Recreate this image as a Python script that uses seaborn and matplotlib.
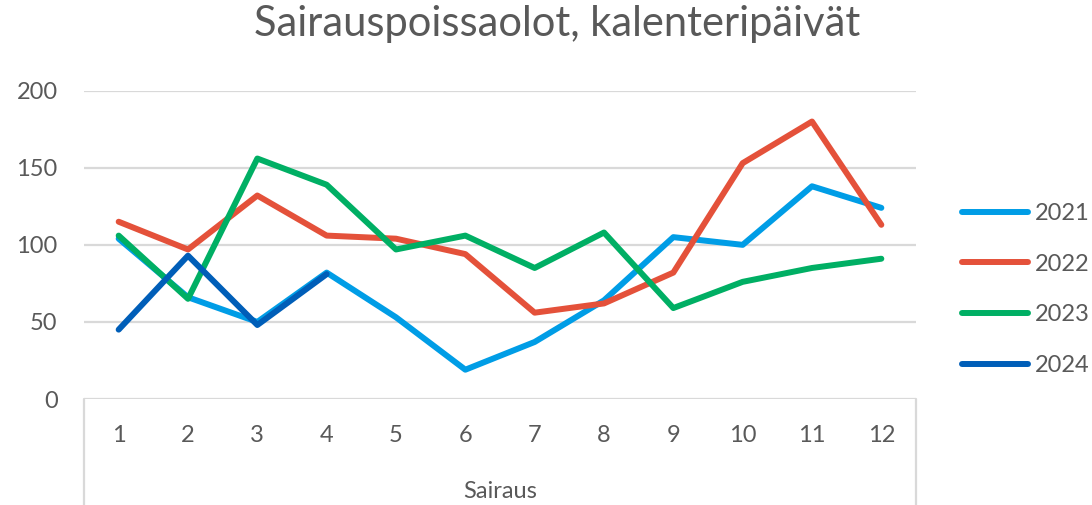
import matplotlib
matplotlib.use("Agg")
import matplotlib.pyplot as plt
import seaborn as sns
import pandas as pd

# Data
CATEGORIES = list(range(1, 13))
YEARS = ['2021', '2022', '2023', '2024']
V2021 = [104, 66, 50, 82, 53, 19, 37, 64, 105, 100, 138, 124]
V2022 = [115, 97, 132, 106, 104, 94, 56, 62, 82, 153, 180, 113]
V2023 = [106, 65, 156, 139, 97, 106, 85, 108, 59, 76, 85, 91]
V2024 = [45, 93, 48, 81]
COLORS = ['#009DE6', '#E4513A', '#00AF64', '#005EB8']

GREY = '#595959'
GRID = '#D9D9D9'


def build_frame():
    rows = []
    for year, vals in zip(YEARS, [V2021, V2022, V2023, V2024]):
        for cat, v in zip(CATEGORIES, vals):
            rows.append({'Sairaus': cat, 'value': v, 'year': year})
    return pd.DataFrame(rows)


def main():
    sns.set_theme(style='white')
    plt.rcParams['font.family'] = ['Lato', 'DejaVu Sans']

    df = build_frame()

    W, H = 1092, 505
    fig = plt.figure(figsize=(W / 100, H / 100), dpi=100)
    left, right, top, bottom = 84, 916, 90.7, 399
    ax = fig.add_axes([left / W, (H - bottom) / H, (right - left) / W, (bottom - top) / H])

    sns.lineplot(data=df, x='Sairaus', y='value', hue='year', hue_order=YEARS,
                 palette=COLORS, linewidth=4.3, legend=False, ax=ax,
                 solid_capstyle='round', solid_joinstyle='round')

    ax.set_xlim(0.5, 12.5)
    ax.set_ylim(0, 200)
    ax.set_yticks([0, 50, 100, 150, 200])
    ax.set_xticks(CATEGORIES)
    ax.set_xticklabels([str(c) for c in CATEGORIES])
    ax.grid(axis='y', color=GRID, linewidth=1.6, zorder=0)
    ax.grid(axis='x', visible=False)
    ax.set_axisbelow(True)
    for s in ax.spines.values():
        s.set_visible(False)
    ax.tick_params(axis='y', length=0, pad=19, labelsize=17, labelcolor=GREY)
    ax.tick_params(axis='x', length=0, pad=19, labelsize=17, labelcolor=GREY)
    ax.set_ylabel('')
    ax.set_xlabel('Sairaus', fontsize=17, color=GREY, labelpad=25)

    # box under the plot area (pivot-chart style field area)
    depth = (H - bottom) / (bottom - top)
    for xpos in (0, 1):
        ax.plot([xpos, xpos], [0, -depth], transform=ax.transAxes, clip_on=False,
                color=GRID, linewidth=1.6)

    fig.text(557 / W, (H - 36) / H, 'Sairauspoissaolot, kalenteripäivät',
             ha='center', va='baseline', fontsize=30, color=GREY)

    handles = ax.get_lines()[:len(YEARS)]
    leg = ax.legend(handles, YEARS, loc='center left',
                    bbox_to_anchor=(962 / W, (H - 289.5) / H),
                    bbox_transform=fig.transFigure, frameon=False,
                    fontsize=17, handlelength=2.8, handletextpad=0.3,
                    labelspacing=1.25, borderpad=0, borderaxespad=0)
    for t in leg.get_texts():
        t.set_color(GREY)

    fig.savefig('out.png', dpi=100)


if __name__ == '__main__':
    main()
